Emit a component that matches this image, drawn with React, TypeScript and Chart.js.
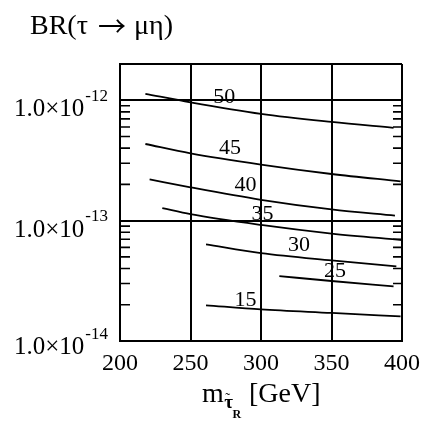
import React, { useEffect, useRef } from "react";
import { Chart, registerables } from "chart.js";

Chart.register(...registerables);

const TITLE_LEFT = "BR(τ";
const TITLE_ARROW = "→";
const TITLE_RIGHT = "μη)";
const xTickValues = [200, 250, 300, 350, 400];
const yMajorValues = [1e-14, 1e-13, 1e-12];
const yGridValues = [1e-14, 1e-13, 1e-12, 2e-12];
const yExponents = ["-14", "-13", "-12"];
const yMantissa = "1.0×10";

const curveNames = ["50", "45", "40", "35", "30", "25", "15"];
const m50 = [218, 250, 300, 350, 394];
const br50 = [1.13e-12, 9.6e-13, 7.7e-13, 6.6e-13, 5.9e-13];
const m45 = [218, 250, 300, 350, 399];
const br45 = [4.33e-13, 3.62e-13, 2.92e-13, 2.44e-13, 2.12e-13];
const m40 = [221, 250, 300, 350, 395];
const br40 = [2.2e-13, 1.89e-13, 1.49e-13, 1.24e-13, 1.1e-13];
const m35 = [230, 250, 300, 350, 400];
const br35 = [1.27e-13, 1.13e-13, 9.2e-14, 7.8e-14, 6.9e-14];
const m30 = [261, 300, 350, 396];
const br30 = [6.34e-14, 5.37e-14, 4.67e-14, 4.17e-14];
const m25 = [313, 350, 394];
const br25 = [3.46e-14, 3.15e-14, 2.84e-14];
const m15 = [261, 300, 350, 399];
const br15 = [1.98e-14, 1.83e-14, 1.71e-14, 1.6e-14];

const labelMass = [274, 278, 289, 301, 327, 352.5, 289];
const labelBR = [1.07e-12, 4.04e-13, 2.0e-13, 1.15e-13, 6.34e-14, 3.86e-14, 2.22e-14];

const curvesM = [m50, m45, m40, m35, m30, m25, m15];
const curvesBR = [br50, br45, br40, br35, br30, br25, br15];

const SERIF = "'Liberation Serif', 'DejaVu Serif', serif";

const decorPlugin = {
  id: "decor",
  afterDraw(chart: any) {
    const ctx = chart.ctx as CanvasRenderingContext2D;
    const xs = chart.scales.x;
    const ys = chart.scales.y;
    const area = chart.chartArea;
    ctx.save();
    ctx.fillStyle = "#000";
    ctx.strokeStyle = "#000";

    // minor ticks on left and right
    ctx.lineWidth = 1.6;
    for (let e = -14; e <= -12; e++) {
      for (let k = 2; k <= 9; k++) {
        const v = k * Math.pow(10, e);
        if (v >= ys.max * 0.999) continue;
        const py = ys.getPixelForValue(v);
        ctx.beginPath();
        ctx.moveTo(area.left, py);
        ctx.lineTo(area.left + 10, py);
        ctx.moveTo(area.right, py);
        ctx.lineTo(area.right - 9, py);
        ctx.stroke();
      }
    }

    // y tick labels
    yMajorValues.forEach((v, i) => {
      const py = ys.getPixelForValue(v);
      const shift = i === 0 ? -3 : 0;
      const rightX = area.left - 12;
      ctx.font = `17px ${SERIF}`;
      ctx.textAlign = "right";
      ctx.textBaseline = "alphabetic";
      const supW = ctx.measureText(yExponents[i]).width;
      ctx.fillText(yExponents[i], rightX, py + 0.5 + shift);
      ctx.font = `25px ${SERIF}`;
      ctx.fillText(yMantissa, rightX - supW - 1, py + 16 + shift);
    });

    // x tick labels
    ctx.font = `24px ${SERIF}`;
    ctx.textAlign = "center";
    ctx.textBaseline = "alphabetic";
    xTickValues.forEach((v) => {
      const px = xs.getPixelForValue(v);
      ctx.fillText(String(v), px, area.bottom + 29);
    });

    // x axis title: m_{τ̃_R} [GeV]
    const base = area.bottom + 61;
    ctx.textAlign = "left";
    ctx.font = `28px ${SERIF}`;
    const wm = ctx.measureText("m").width;
    ctx.font = `bold 19px ${SERIF}`;
    const wt = ctx.measureText("τ").width;
    let x0 = 202;
    ctx.font = `28px ${SERIF}`;
    ctx.fillText("m", x0, base);
    x0 += wm + 0.5;
    ctx.font = `bold 19px ${SERIF}`;
    ctx.fillText("τ", x0, base + 6);
    ctx.font = `15px ${SERIF}`;
    ctx.fillText("˜", x0 + 1, base + 1);
    x0 += wt - 0.5;
    ctx.font = `bold 12px ${SERIF}`;
    ctx.fillText("R", x0, base + 15.5);
    ctx.font = `28px ${SERIF}`;
    ctx.fillText("[GeV]", 249, base);

    // title
    ctx.textAlign = "left";
    ctx.textBaseline = "alphabetic";
    ctx.font = `28px ${SERIF}`;
    ctx.fillText(TITLE_LEFT, 30, 34);
    ctx.font = `28px 'Noto Sans CJK SC', 'DejaVu Sans', sans-serif`;
    ctx.textAlign = "center";
    ctx.textBaseline = "middle";
    ctx.fillText(TITLE_ARROW, 112, 26);
    ctx.textAlign = "left";
    ctx.textBaseline = "alphabetic";
    ctx.font = `28px ${SERIF}`;
    ctx.fillText(TITLE_RIGHT, 134, 34);

    // curve labels
    ctx.font = `22px ${SERIF}`;
    ctx.textAlign = "center";
    ctx.textBaseline = "middle";
    curveNames.forEach((n, i) => {
      const px = xs.getPixelForValue(labelMass[i]);
      const py = ys.getPixelForValue(labelBR[i]);
      ctx.fillText(n, px, py + 1);
    });

    ctx.restore();
  },
};

export default function App() {
  const ref = useRef<HTMLCanvasElement | null>(null);
  useEffect(() => {
    if (!ref.current) return;
    const datasets = curveNames.map((n, i) => ({
      label: n,
      data: curvesM[i].map((m, j) => ({ x: m, y: curvesBR[i][j] })),
      borderColor: "#000",
      borderWidth: 1.8,
      pointRadius: 0,
      fill: false,
      cubicInterpolationMode: "monotone" as const,
    }));
    const chart = new Chart(ref.current, {
      type: "line",
      data: { datasets },
      options: {
        responsive: false,
        animation: false,
        layout: { padding: { left: 120, right: 21, top: 64, bottom: 82 } },
        plugins: { legend: { display: false }, tooltip: { enabled: false }, title: { display: false } },
        scales: {
          x: {
            type: "linear",
            min: 200,
            max: 400,
            ticks: { display: false, stepSize: 50 },
            grid: { color: "#000", lineWidth: 2, drawTicks: false },
            border: { display: true, color: "#000", width: 2 },
          },
          y: {
            type: "logarithmic",
            min: 1e-14,
            max: 2e-12,
            afterBuildTicks: (scale: any) => {
              scale.ticks = yGridValues.map((v) => ({ value: v }));
            },
            ticks: { display: false },
            grid: { color: "#000", lineWidth: 2, drawTicks: false },
            border: { display: true, color: "#000", width: 2 },
          },
        },
      },
      plugins: [decorPlugin],
    });
    return () => chart.destroy();
  }, []);
  return (
    <div style={{ position: "absolute", left: 0, top: 0, width: 423, height: 423, background: "#fff" }}>
      <canvas ref={ref} width={423} height={423} style={{ width: 423, height: 423 }} />
    </div>
  );
}
